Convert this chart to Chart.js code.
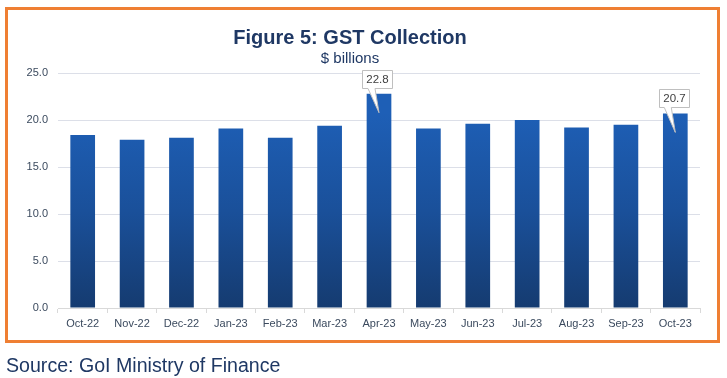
<!DOCTYPE html>
<html>
<head>
<meta charset="utf-8">
<script src="https://cdn.jsdelivr.net/npm/chart.js@4.4.1/dist/chart.umd.min.js"></script>
<style>
  html, body { margin: 0; padding: 0; background: #ffffff; }
  #wrap { position: relative; width: 727px; height: 378px; overflow: hidden; }
  #frame { position: absolute; left: 5px; top: 7px; width: 709px; height: 330px; border: 3px solid #EF7F33; }
  #chart { position: absolute; left: 0; top: 0; }
  #source { position: absolute; left: 6px; top: 354px; font-family: "Liberation Sans", Arial, sans-serif; font-size: 19.6px; color: #1F3864; white-space: nowrap; }
</style>
</head>
<body>
<div id="wrap">
  <div id="frame"></div>
  <canvas id="chart" width="727" height="378"></canvas>
  <div id="source">Source: GoI Ministry of Finance</div>
</div>
<script>
const months = ['Oct-22','Nov-22','Dec-22','Jan-23','Feb-23','Mar-23','Apr-23','May-23','Jun-23','Jul-23','Aug-23','Sep-23','Oct-23'];
const gstCollection = [18.4, 17.9, 18.1, 19.1, 18.1, 19.4, 22.8, 19.1, 19.6, 20.0, 19.2, 19.5, 20.7];
const labelledMonths = ['Apr-23', 'Oct-23'];
const yTicks = [0, 5, 10, 15, 20, 25];
const titleText = 'Figure 5: GST Collection';
const subtitleText = '$ billions';

const calloutPlugin = {
  id: 'callouts',
  afterDatasetsDraw(chart) {
    const ctx = chart.ctx;
    const meta = chart.getDatasetMeta(0);
    ctx.save();
    ctx.font = '11.5px "Liberation Sans", Arial, sans-serif';
    labelledMonths.forEach(m => {
      const i = months.indexOf(m);
      if (i < 0) return;
      const el = meta.data[i];
      const txt = gstCollection[i].toFixed(1);
      const tw = ctx.measureText(txt).width;
      const w = tw + 8, h = 18;
      const cx = el.x - 1.5;
      const left = Math.round(cx - w / 2) + 0.5;
      const right = left + Math.round(w);
      const bottom = Math.round(el.y - 6) + 0.5;
      const top = bottom - h;
      const b1 = el.x - 11, b2 = el.x - 4;
      const tipX = el.x, tipY = el.y + 19;
      ctx.beginPath();
      ctx.moveTo(left, top);
      ctx.lineTo(right, top);
      ctx.lineTo(right, bottom);
      ctx.lineTo(b2, bottom);
      ctx.lineTo(tipX, tipY);
      ctx.lineTo(b1, bottom);
      ctx.lineTo(left, bottom);
      ctx.closePath();
      ctx.fillStyle = '#ffffff';
      ctx.fill();
      ctx.strokeStyle = '#BFBFBF';
      ctx.lineWidth = 1;
      ctx.stroke();
      ctx.fillStyle = '#404040';
      ctx.textAlign = 'center';
      ctx.textBaseline = 'middle';
      ctx.fillText(txt, (left + right) / 2, (top + bottom) / 2 + 0.5);
    });
    ctx.restore();
  }
};

function barGradient(context) {
  const chart = context.chart;
  const area = chart.chartArea;
  if (!area) return '#1B4F99';
  const g = chart.ctx.createLinearGradient(0, area.top + 40, 0, area.bottom);
  g.addColorStop(0, '#1E5FB6');
  g.addColorStop(0.5, '#1A509A');
  g.addColorStop(1, '#153B70');
  return g;
}

new Chart(document.getElementById('chart'), {
  type: 'bar',
  data: {
    labels: months,
    datasets: [{
      data: gstCollection,
      backgroundColor: barGradient,
      borderWidth: 0,
      categoryPercentage: 1.0,
      barPercentage: 0.5
    }]
  },
  options: {
    responsive: false,
    animation: false,
    devicePixelRatio: 1,
    layout: { padding: { top: 0, left: 0, right: 27, bottom: 40 } },
    plugins: {
      legend: { display: false },
      tooltip: { enabled: false },
      title: {
        display: true,
        text: titleText,
        color: '#1F3864',
        font: { family: '"Liberation Sans", Arial, sans-serif', size: 20, weight: 'bold', lineHeight: 1.2 },
        padding: { top: 26, bottom: 0 }
      },
      subtitle: {
        display: true,
        text: subtitleText,
        color: '#1F3864',
        font: { family: '"Liberation Sans", Arial, sans-serif', size: 15, weight: 'normal', lineHeight: 1.2 },
        padding: { top: 0, bottom: 5 }
      }
    },
    scales: {
      x: {
        offset: true,
        grid: { display: true, drawOnChartArea: false, drawTicks: true, tickLength: 5, color: '#D9D9D9', offset: true },
        border: { display: true, color: '#D9D9D9', width: 1 },
        ticks: { color: '#3B4A5E', font: { family: '"Liberation Sans", Arial, sans-serif', size: 11 }, padding: 4, maxRotation: 0, autoSkip: false },
        afterFit(scale) { scale.height = 30; }
      },
      y: {
        min: 0,
        max: 25,
        afterBuildTicks(scale) { scale.ticks = yTicks.map(v => ({ value: v })); },
        grid: { color: '#DCDFE8', drawTicks: false, lineWidth: 1 },
        border: { display: false },
        ticks: {
          color: '#3B4A5E',
          font: { family: '"Liberation Sans", Arial, sans-serif', size: 11 },
          padding: 10,
          callback: v => Number(v).toFixed(1)
        },
        afterFit(scale) { scale.width = 58; }
      }
    }
  },
  plugins: [calloutPlugin]
});
</script>
</body>
</html>
